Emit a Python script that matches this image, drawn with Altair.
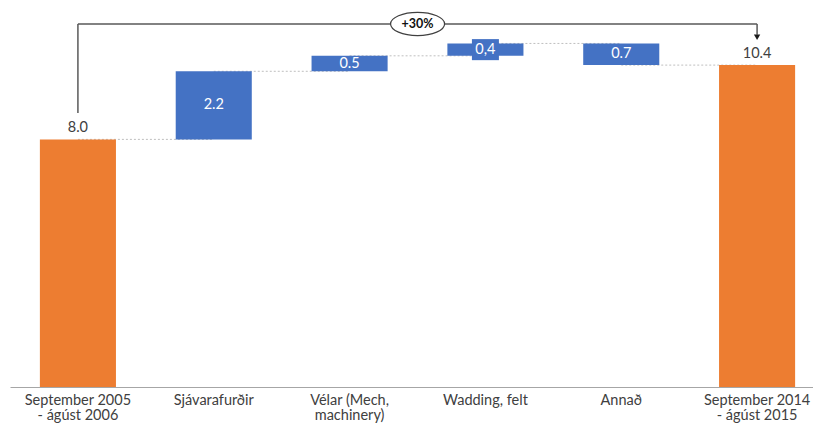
import altair as alt
import pandas as pd

# ---- data ----
categories = ["September 2005\n- ágúst 2006", "Sjávarafurðir", "Vélar (Mech,\nmachinery)",
              "Wadding, felt", "Annað", "September 2014\n- ágúst 2015"]
values = [8.0, 2.2, 0.5, 0.4, -0.7, 10.4]
kinds = ["total", "delta", "delta", "delta", "delta", "total"]
labels = ["8.0", "2.2", "0.5", "0,4", "0.7", "10.4"]
boxed = [False, False, False, True, False, False]
change_label = "+30%"

# ---- derived waterfall table ----
rows = []
run = 0.0
for c, v, k, l, b in zip(categories, values, kinds, labels, boxed):
    if k == "total":
        s, e = 0.0, v
    else:
        s, e = run, run + v
    run = e
    rows.append(dict(cat=c, start=s, end=e, mid=(s + e) / 2, top=max(s, e), kind=k, label=l, boxed=b))
df = pd.DataFrame(rows)

conn = pd.DataFrame([
    dict(cat=categories[i], cat2=categories[i + 1], level=rows[i]["end"])
    for i in range(len(categories) - 1)
])

# bracket levels (layout constants, data units)
bracket_top = 11.73
bracket_low = 8.85
arrow_y = 11.3
bracket = pd.DataFrame([
    dict(cat=categories[0], cat2=categories[0], y=bracket_low, y2=bracket_top),
    dict(cat=categories[0], cat2=categories[-1], y=bracket_top, y2=bracket_top),
    dict(cat=categories[-1], cat2=categories[-1], y=bracket_top, y2=arrow_y + 0.08),
])
arrow = pd.DataFrame([dict(cat=categories[-1], y=arrow_y)])
badge = pd.DataFrame([dict(cat=categories[2], y=bracket_top, label=change_label)])

FONT = "Lato"
ORANGE = "#ED7D31"
BLUE = "#4472C4"

xscale = alt.Scale(domain=categories, range=[0, 815], paddingInner=0.44, paddingOuter=0.22)
xaxis = alt.Axis(title=None, labelAngle=0, ticks=False, domainColor="#A6A6A6", domainWidth=1,
                 labelColor="#404040", labelFont=FONT, labelFontSize=14.5,
                 labelPadding=6, labelLineHeight=15.5, grid=False,
                 labelExpr="split(datum.label, '\\n')")
X = alt.X("cat:N", sort=categories, scale=xscale, axis=xaxis)
yscale = alt.Scale(domain=[0, 12.245], nice=False, zero=True)

base = alt.Chart(df)

connectors = alt.Chart(conn).mark_rule(color="#BFBFBF", strokeDash=[2, 2], strokeWidth=1).encode(
    x=X, x2="cat2:N",
    y=alt.Y("level:Q", scale=yscale, axis=None))

bars = base.mark_bar().encode(
    x=X,
    y=alt.Y("start:Q", scale=yscale, axis=None), y2="end:Q",
    color=alt.Color("kind:N", scale=alt.Scale(domain=["total", "delta"], range=[ORANGE, BLUE]), legend=None))

boxes = base.transform_filter("datum.boxed").mark_point(
    shape="M -1 -0.78 L 1 -0.78 L 1 0.78 L -1 0.78 Z", size=729, filled=True, opacity=1,
    color=BLUE, strokeWidth=0).encode(
    x=X, y=alt.Y("mid:Q", scale=yscale, axis=None))

delta_text = base.transform_filter("datum.kind == 'delta'").mark_text(
    color="white", font=FONT, fontSize=14.5, baseline="middle").encode(
    x=X, y=alt.Y("mid:Q", scale=yscale, axis=None), text="label:N")

total_text = base.transform_filter("datum.kind == 'total'").mark_text(
    color="#404040", font=FONT, fontSize=14.5, baseline="bottom", dy=-4).encode(
    x=X, y=alt.Y("top:Q", scale=yscale, axis=None), text="label:N")

bracket_lines = alt.Chart(bracket).mark_rule(color="#595959", strokeWidth=1.5).encode(
    x=X, x2="cat2:N",
    y=alt.Y("y:Q", scale=yscale, axis=None), y2="y2:Q")

arrow_mark = alt.Chart(arrow).mark_point(shape="triangle-down", filled=True, size=40,
                                          color="#1a1a1a", opacity=1).encode(
    x=X, y=alt.Y("y:Q", scale=yscale, axis=None))

ellipse = alt.Chart(badge).mark_point(
    shape="M -1 0 A 1 0.43 0 1 1 1 0 A 1 0.43 0 1 1 -1 0 Z", size=2916,
    fill="white", stroke="#404040", strokeWidth=1.2, opacity=1, fillOpacity=1, xOffset=68).encode(
    x=X, y=alt.Y("y:Q", scale=yscale, axis=None))

badge_text = alt.Chart(badge).mark_text(font=FONT, fontSize=12.5, fontWeight="bold", color="#111111",
                                        baseline="middle", dx=68).encode(
    x=X, y=alt.Y("y:Q", scale=yscale, axis=None), text="label:N")

chart = alt.layer(connectors, bars, boxes, delta_text, total_text, bracket_lines, arrow_mark,
                  ellipse, badge_text).properties(
    width=803, height=379,
    autosize=alt.AutoSizeParams(type="none"),
    padding={"left": 2, "top": 0, "right": 0, "bottom": 37},
    background="white",
).configure_view(stroke=None)

chart.save("out.html", embed_options={"renderer": "svg", "actions": False})
